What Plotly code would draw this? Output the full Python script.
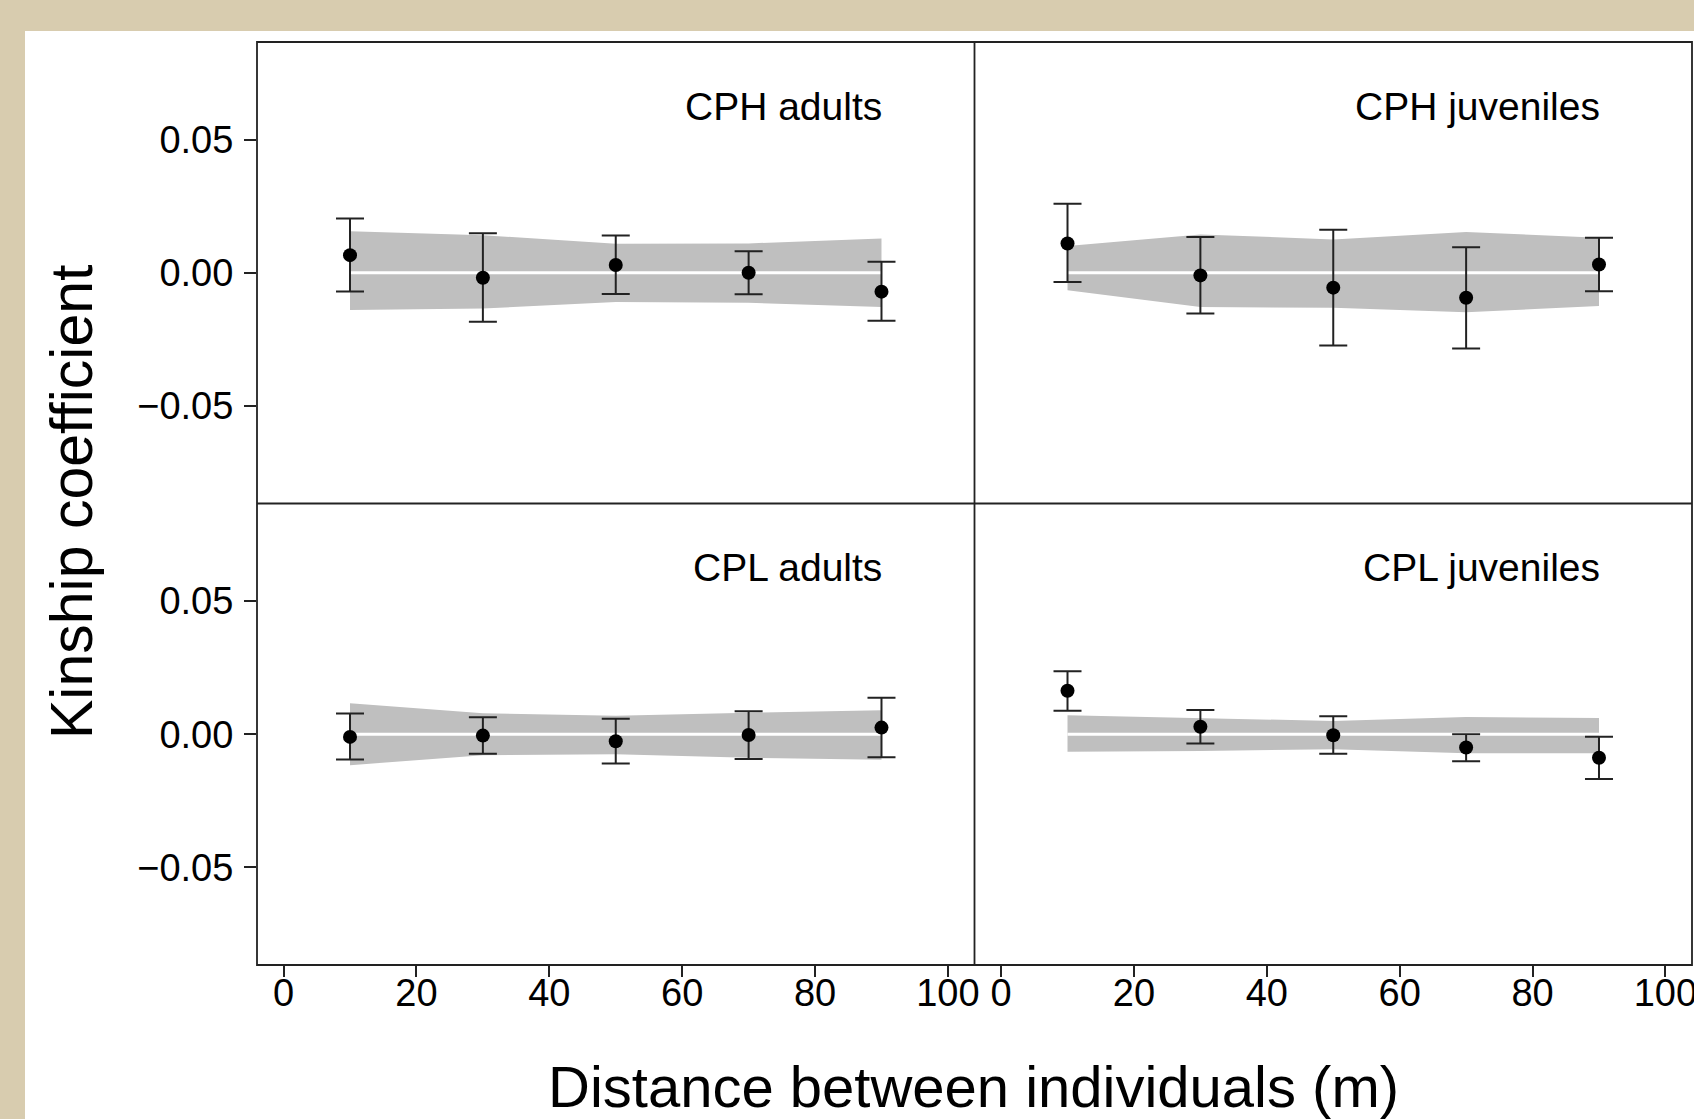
import plotly.graph_objects as go

# ---- data ----
distance = [10, 30, 50, 70, 90]
panels = ["CPH adults", "CPH juveniles", "CPL adults", "CPL juveniles"]

cph_ad_mean = [0.0066, -0.0019, 0.0029, 0.0000, -0.0071]
cph_ad_hi = [0.0204, 0.0148, 0.0140, 0.0081, 0.0041]
cph_ad_lo = [-0.0070, -0.0184, -0.0080, -0.0081, -0.0180]
cph_ad_env_hi = [0.0156, 0.0141, 0.0109, 0.0110, 0.0129]
cph_ad_env_lo = [-0.0140, -0.0134, -0.0110, -0.0113, -0.0129]

cph_ju_mean = [0.0110, -0.0010, -0.0056, -0.0094, 0.0031]
cph_ju_hi = [0.0259, 0.0134, 0.0161, 0.0096, 0.0131]
cph_ju_lo = [-0.0035, -0.0153, -0.0273, -0.0284, -0.0069]
cph_ju_env_hi = [0.0100, 0.0144, 0.0125, 0.0153, 0.0131]
cph_ju_env_lo = [-0.0066, -0.0129, -0.0131, -0.0148, -0.0125]

cpl_ad_mean = [-0.0010, -0.0005, -0.0026, -0.0003, 0.0025]
cpl_ad_hi = [0.0078, 0.0064, 0.0058, 0.0086, 0.0137]
cpl_ad_lo = [-0.0095, -0.0073, -0.0110, -0.0093, -0.0086]
cpl_ad_env_hi = [0.0116, 0.0079, 0.0069, 0.0081, 0.0090]
cpl_ad_env_lo = [-0.0116, -0.0079, -0.0075, -0.0088, -0.0096]

cpl_ju_mean = [0.0163, 0.0028, -0.0004, -0.0050, -0.0088]
cpl_ju_hi = [0.0236, 0.0091, 0.0068, 0.0000, -0.0009]
cpl_ju_lo = [0.0088, -0.0035, -0.0073, -0.0101, -0.0168]
cpl_ju_env_hi = [0.0071, 0.0060, 0.0050, 0.0065, 0.0061]
cpl_ju_env_lo = [-0.0066, -0.0063, -0.0056, -0.0071, -0.0071]

x_ticks = [0, 20, 40, 60, 80, 100]
y_ticks = [-0.05, 0.0, 0.05]
y_ticktext = ["\u22120.05", "0.00", "0.05"]

panel_data = [
    (cph_ad_mean, cph_ad_hi, cph_ad_lo, cph_ad_env_hi, cph_ad_env_lo),
    (cph_ju_mean, cph_ju_hi, cph_ju_lo, cph_ju_env_hi, cph_ju_env_lo),
    (cpl_ad_mean, cpl_ad_hi, cpl_ad_lo, cpl_ad_env_hi, cpl_ad_env_lo),
    (cpl_ju_mean, cpl_ju_hi, cpl_ju_lo, cpl_ju_env_hi, cpl_ju_env_lo),
]

# ---- layout geometry ----
W, H = 1694, 1119
ML, MR, MT, MB = 257, 2, 42, 154
PW, PH = W - ML - MR, H - MT - MB
FONT = "Liberation Sans, Arial, Helvetica, sans-serif"
LINE = "#222222"
YR = [-0.0866, 0.0866]
XR = [-4, 104]

xdoms = [[0, 0.5], [0.5, 1], [0, 0.5], [0.5, 1]]
ydoms = [[0.5, 1], [0.5, 1], [0, 0.5], [0, 0.5]]

fig = go.Figure()

for i, (mean, hi, lo, ehi, elo) in enumerate(panel_data):
    n = i + 1
    xa = "x" if n == 1 else f"x{n}"
    ya = "y" if n == 1 else f"y{n}"
    fig.add_trace(go.Scatter(
        x=distance + distance[::-1], y=ehi + elo[::-1],
        fill="toself", fillcolor="#bfbfbf", line=dict(width=0),
        mode="lines", xaxis=xa, yaxis=ya, hoverinfo="skip", showlegend=False))
    fig.add_trace(go.Scatter(
        x=[distance[0], distance[-1]], y=[0, 0], mode="lines",
        line=dict(color="white", width=3), xaxis=xa, yaxis=ya,
        hoverinfo="skip", showlegend=False))
    fig.add_trace(go.Scatter(
        x=distance, y=mean, mode="markers",
        marker=dict(color="black", size=14),
        error_y=dict(type="data", symmetric=False,
                     array=[h - m for h, m in zip(hi, mean)],
                     arrayminus=[m - l for m, l in zip(mean, lo)],
                     color=LINE, thickness=2, width=14),
        xaxis=xa, yaxis=ya, showlegend=False))

layout = dict(
    width=W, height=H, autosize=False,
    margin=dict(l=ML, r=MR, t=MT, b=MB, autoexpand=False),
    paper_bgcolor="#d8ccaf",
    plot_bgcolor="white",
    showlegend=False,
    font=dict(family=FONT, color="black"),
)

for i in range(4):
    n = i + 1
    xk = "xaxis" if n == 1 else f"xaxis{n}"
    yk = "yaxis" if n == 1 else f"yaxis{n}"
    bottom = i >= 2
    left = i % 2 == 0
    layout[xk] = dict(
        domain=xdoms[i], range=XR, anchor="y" if n == 1 else f"y{n}",
        automargin=False, ticklabeloverflow="allow",
        showline=False, showgrid=False, zeroline=False,
        tickvals=x_ticks if bottom else [],
        ticks="outside" if bottom else "", ticklen=11, tickwidth=1.5, tickcolor=LINE,
        showticklabels=bottom, ticklabelstandoff=-17,
        tickfont=dict(size=38, family=FONT, color="black"),
    )
    layout[yk] = dict(
        domain=ydoms[i], range=YR, anchor="x" if n == 1 else f"x{n}",
        automargin=False, ticklabeloverflow="allow",
        showline=False, showgrid=False, zeroline=False,
        tickvals=y_ticks if left else [], ticktext=y_ticktext if left else [],
        ticks="outside" if left else "", ticklen=12, tickwidth=1.5, tickcolor=LINE,
        showticklabels=left, ticklabelstandoff=3,
        tickfont=dict(size=38, family=FONT, color="black"),
    )

fig.update_layout(**layout)

# white page area behind the chart
fig.add_shape(type="rect", xref="paper", yref="paper",
              x0=(25 - ML) / PW, x1=1.01,
              y0=-MB / PH - 0.01, y1=(H - MB - 31) / PH,
              fillcolor="white", line=dict(width=0), layer="below")

# panel frame
frame = dict(color=LINE, width=1.8)
fig.add_shape(type="rect", xref="paper", yref="paper", x0=0, x1=1, y0=0, y1=1,
              line=frame, layer="above")
fig.add_shape(type="line", xref="paper", yref="paper", x0=0.5, x1=0.5, y0=0, y1=1,
              line=frame, layer="above")
fig.add_shape(type="line", xref="paper", yref="paper", x0=0, x1=1, y0=0.5, y1=0.5,
              line=frame, layer="above")

# panel titles
for i, name in enumerate(panels):
    n = i + 1
    fig.add_annotation(text=name, x=90.4, y=0.0625,
                       xref="x" if n == 1 else f"x{n}", yref="y" if n == 1 else f"y{n}",
                       xanchor="right", yanchor="middle", showarrow=False,
                       font=dict(size=39, family=FONT, color="black"))

# axis titles
fig.add_annotation(text="Kinship coefficient", xref="paper", yref="paper",
                   x=(72 - ML) / PW, y=(H - MB - 502) / PH,
                   textangle=-90, showarrow=False, xanchor="center", yanchor="middle",
                   font=dict(size=59, family=FONT, color="black"))
fig.add_annotation(text="Distance between individuals (m)", xref="paper", yref="paper",
                   x=(973 - ML) / PW, y=(H - MB - 1086) / PH,
                   showarrow=False, xanchor="center", yanchor="middle",
                   font=dict(size=58, family=FONT, color="black"))

fig.write_html("out.html", config={"displayModeBar": False},
               post_script="document.body.style.margin='0';document.body.style.overflow='hidden';")
